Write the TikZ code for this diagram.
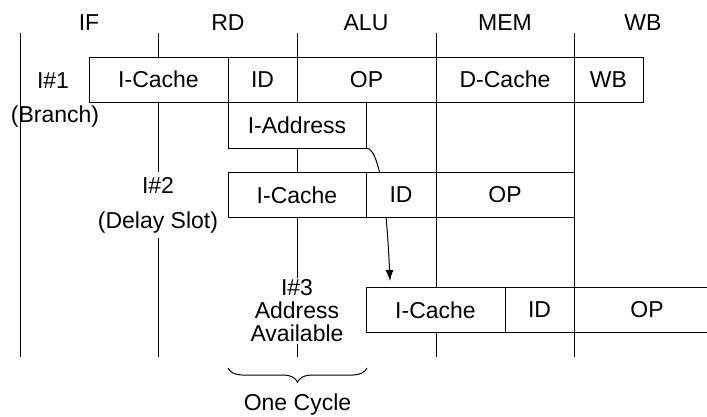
\documentclass[tikz,border=0pt]{standalone}
\usepackage{fontspec}
\setmainfont{Liberation Sans}
\usetikzlibrary{decorations.pathreplacing,arrows.meta,positioning}

\tikzset{
  cell/.style={draw,fill=white,minimum height=45pt,inner sep=0pt,outer sep=0pt},
  stage/.style={line width=1pt},
  every node/.style={font=\fontsize{23}{23}\selectfont}
}

\begin{document}
\begin{tikzpicture}[x=1pt,y=-1pt,line width=1pt]
\useasboundingbox (0,0) rectangle (707,416);
\foreach \x [count=\n] in {20,158,297,436,574}
	\draw[stage] (\x,33) coordinate (T\n) -- (\x,357) coordinate (E\n);
\foreach \lbl/\x [count=\n] in {IF/89,RD/228,ALU/366,MEM/505,WB/643}
	\node (H\n) at (\x,23) {\lbl};

% I#1
\coordinate (A0) at (89,79.5);
\foreach \lbl/\w [count=\n] in {I-Cache/139,ID/69,OP/139,D-Cache/138,WB/69}{
	\pgfmathtruncatemacro\p{\n-1}
	\node[cell,minimum width=\w pt,right=0pt of A\p] (A\n) {\lbl};
}
\node[cell,minimum width=138pt,minimum height=46pt,anchor=north west] (IA) at (A2.south west) {I-Address};
\node (I1) at (53,81) {I\#1};
\node (I1b) at (55,117) {(Branch)};

\coordinate (tip) at (390,281);
\draw[-{Latex[length=11pt,width=8pt]}] (IA.south east) .. controls (378,148) and (386,190) .. (tip);

% I#2
\node[fill=white,align=center,inner sep=5pt] (I2) at (158,205) {I\#2\\[12pt](Delay Slot)};
\coordinate (B0) at (228,195);
\foreach \lbl/\w [count=\n] in {I-Cache/138,ID/70,OP/138}{
	\pgfmathtruncatemacro\p{\n-1}
	\node[cell,minimum width=\w pt,right=0pt of B\p] (B\n) {\lbl};
}

% I#3
\node[fill=white,align=center,inner sep=2pt] (I3) at (297,311) {I\#3\\Address\\Available};
\coordinate (C0) at (366,310);
\foreach \lbl/\w [count=\n] in {I-Cache/139,ID/69,OP/146}{
	\pgfmathtruncatemacro\p{\n-1}
	\node[cell,minimum width=\w pt,right=0pt of C\p] (C\n) {\lbl};
}

\coordinate (bl) at (228,368);
\coordinate (br) at (367,368);
\draw [decoration={brace,mirror,amplitude=14pt},decorate] (bl) -- node[below=22pt](cyc){One Cycle} (br);
\end{tikzpicture}
\end{document}
